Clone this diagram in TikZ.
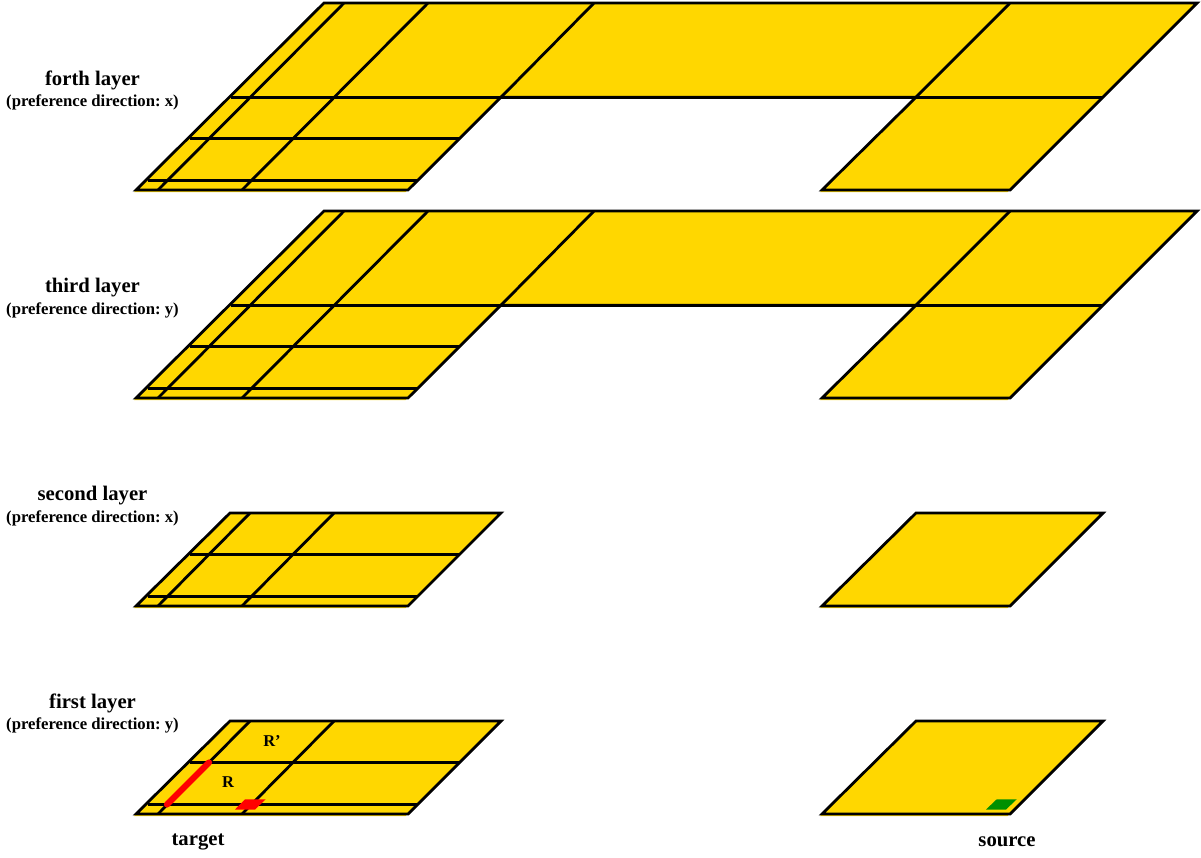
\documentclass[tikz,border=0pt]{standalone}
\usepackage{fontspec}
\setmainfont{Liberation Serif}
\definecolor{layergold}{HTML}{FFD700}
\definecolor{viagreen}{HTML}{009000}
\tikzset{
  plate/.style={fill=layergold,draw=none},
  edge/.style={draw=black,line width=2.8pt,line join=miter,line cap=butt},
  grid/.style={draw=black,line width=2.8pt,line cap=butt},
  title/.style={font=\bfseries\fontsize{20.7}{24}\selectfont,inner sep=0pt,text=black},
  sub/.style={font=\bfseries\fontsize{16.7}{19}\selectfont\frenchspacing,inner sep=0pt,text=black},
  mark label/.style={font=\bfseries\fontsize{16.5}{19}\selectfont,inner sep=0pt,text=black}
}
\newcommand{\smallplates}{%
  % target panel
  \path[plate] (134,95.2) -- (229,1) -- (500,1) -- (405.5,95.2) -- cycle;
  \draw[edge] (136,93) -- (230,0) -- (501,0) -- (408,93) -- cycle;
  \draw[grid] (190,41.5) -- (459,41.5);
  \draw[grid] (148,83.5) -- (417,83.5);
  \draw[grid] (158,93) -- (250,0);
  \draw[grid] (242,93) -- (334,0);
  % source panel
  \path[plate] (820,95.2) -- (915,1) -- (1102,1) -- (1007.5,95.2) -- cycle;
  \draw[edge] (822,93) -- (916,0) -- (1103,0) -- (1010,93) -- cycle;
}
\newcommand{\bigplate}{%
  \path[plate] (134,189.2) -- (323,1) -- (1196,1) -- (1007.5,189.2) -- (820,189.2) -- (915,95) -- (500,95) -- (405.5,189.2) -- cycle;
  \draw[edge] (136,187) -- (324,0) -- (1197,0) -- (1010,187) -- (822,187) -- (916,94.2) -- (501,94.2) -- (408,187) -- cycle;
  \draw[grid] (231,94.2) -- (916,94.2);
  \draw[grid] (190,135.5) -- (459,135.5);
  \draw[grid] (148,177.5) -- (417,177.5);
  \draw[grid] (158,187) -- (344,0);
  \draw[grid] (242,187) -- (428,0);
  \draw[grid] (501,94.2) -- (594,0);
  \draw[grid] (916,94.2) -- (1010,0);
  \draw[grid] (916,94.2) -- (1103,94.2);
}
\begin{document}
\begin{tikzpicture}[x=1pt,y=-1pt]
\useasboundingbox (0,0) rectangle (1201,857);
% fourth and third layers
\begin{scope}[shift={(0,3)}]\bigplate\end{scope}
\begin{scope}[shift={(0,211)}]\bigplate\end{scope}
% second and first layers
\begin{scope}[shift={(0,513)}]\smallplates\end{scope}
\begin{scope}[shift={(0,721)}]\smallplates\end{scope}
% marked regions
\draw[red,line width=6.2pt,line cap=round] (167,804.5) -- (209,762.5);
\fill[red] (235,809.5) -- (245,799.3) -- (265.7,799.3) -- (255,809.5) -- cycle;
\fill[viagreen] (986,809.5) -- (996.7,799.3) -- (1016.7,799.3) -- (1006,809.5) -- cycle;
% labels
\node[title] (l4) at (92.5,80) {forth layer};
\node[sub]   (d4) at (92.5,102) {(preference direction: x)};
\node[title] (l3) at (92.5,288) {third layer};
\node[sub]   (d3) at (92.5,310) {(preference direction: y)};
\node[title] (l2) at (92.5,496) {second layer};
\node[sub]   (d2) at (92.5,518) {(preference direction: x)};
\node[title] (l1) at (92.5,703.5) {first layer};
\node[sub]   (d1) at (92.5,725.5) {(preference direction: y)};
\node[mark label] (r)  at (228,782) {R};
\node[mark label] (rp) at (272,741) {R’};
\node[title] (t) at (198,841.5) {target};
\node[title] (s) at (1007,841.5) {source};
\end{tikzpicture}
\end{document}
